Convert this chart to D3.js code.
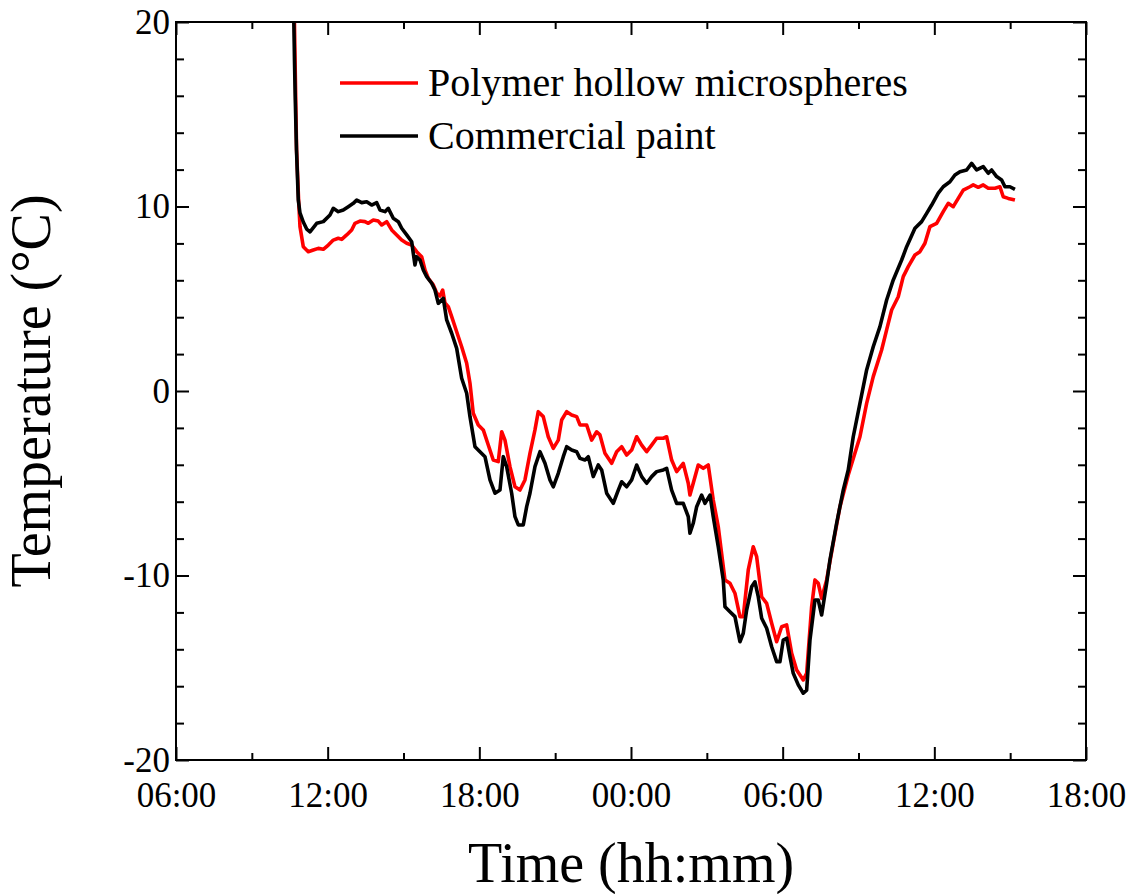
<!DOCTYPE html>
<html>
<head>
<meta charset="utf-8">
<script src="https://cdn.jsdelivr.net/npm/d3@7"></script>
<style>
  html, body { margin: 0; padding: 0; background: #fff; }
  svg { display: block; font-family: "Liberation Serif", "Times New Roman", serif; }
</style>
</head>
<body>
<svg id="chart" width="1135" height="894"></svg>
<script>
// Elapsed clock hours from midnight of day 1 (24 = midnight of day 2)
const polymerHours = [10.63, 10.67, 10.77, 10.85, 10.905, 11.036, 11.233, 11.431, 11.629, 11.827, 12.025, 12.222, 12.42, 12.555, 12.752, 12.95, 13.081, 13.278, 13.476, 13.607, 13.805, 14.002, 14.137, 14.335, 14.533, 14.73, 14.928, 15.126, 15.324, 15.521, 15.719, 15.85, 15.98, 16.178, 16.313, 16.443, 16.55, 16.641, 16.771, 16.906, 17.104, 17.301, 17.499, 17.63, 17.76, 17.958, 18.156, 18.354, 18.551, 18.749, 18.884, 19.014, 19.212, 19.41, 19.608, 19.805, 20.003, 20.201, 20.331, 20.529, 20.727, 20.925, 21.123, 21.257, 21.455, 21.653, 21.851, 21.981, 22.246, 22.444, 22.642, 22.772, 22.97, 23.235, 23.433, 23.631, 23.829, 24.026, 24.224, 24.422, 24.62, 24.817, 25.015, 25.276, 25.411, 25.608, 25.806, 26.067, 26.265, 26.332, 26.462, 26.66, 26.858, 27.056, 27.254, 27.452, 27.717, 27.915, 28.112, 28.31, 28.441, 28.639, 28.837, 28.971, 29.169, 29.367, 29.565, 29.762, 29.96, 30.158, 30.356, 30.553, 30.815, 30.949, 31.146, 31.277, 31.408, 31.542, 31.74, 32.001, 32.266, 32.594, 33.057, 33.322, 33.583, 33.915, 34.113, 34.311, 34.572, 34.77, 34.968, 35.233, 35.43, 35.628, 35.826, 36.091, 36.352, 36.55, 36.748, 36.946, 37.144, 37.408, 37.539, 37.737, 37.935, 38.133, 38.398, 38.595, 38.726, 38.924, 39.188];
const polymerTemp = [25.0, 21.2, 13.06, 10.35, 8.91, 7.82, 7.55, 7.64, 7.73, 7.68, 7.91, 8.18, 8.28, 8.22, 8.46, 8.73, 9.09, 9.21, 9.18, 9.09, 9.27, 9.21, 9.0, 9.18, 8.73, 8.46, 8.18, 8.01, 7.91, 7.55, 7.28, 6.56, 6.11, 5.75, 5.31, 5.15, 5.47, 4.77, 4.57, 4.03, 3.21, 2.40, 1.50, 0.42, -1.21, -1.84, -2.11, -2.93, -3.74, -3.83, -2.21, -2.66, -4.10, -5.19, -5.37, -4.82, -3.38, -2.11, -1.12, -1.39, -2.48, -3.11, -2.66, -1.57, -1.12, -1.30, -1.39, -1.84, -1.84, -2.66, -2.21, -2.38, -3.38, -3.92, -3.29, -3.02, -3.47, -3.20, -2.48, -2.93, -3.29, -2.93, -2.56, -2.56, -2.48, -3.74, -4.37, -3.92, -5.00, -5.64, -5.00, -4.01, -4.19, -4.01, -5.91, -7.36, -10.24, -10.42, -10.96, -12.23, -12.23, -9.70, -8.44, -8.98, -11.15, -11.51, -12.59, -13.59, -12.78, -12.68, -14.22, -15.12, -15.66, -15.30, -11.69, -10.24, -10.42, -11.24, -10.24, -8.25, -6.27, -4.55, -2.48, -0.67, 0.78, 2.22, 3.31, 4.39, 5.11, 6.20, 6.74, 7.37, 7.55, 8.01, 8.91, 9.09, 9.72, 10.17, 9.99, 10.44, 10.89, 11.07, 11.17, 11.04, 11.17, 10.99, 10.99, 11.07, 10.53, 10.44, 10.35];

const paintHours = [10.63, 10.648, 10.687, 10.719, 10.767, 10.838, 10.905, 11.036, 11.17, 11.301, 11.566, 11.827, 12.092, 12.222, 12.42, 12.618, 12.816, 13.014, 13.148, 13.346, 13.544, 13.741, 13.939, 14.07, 14.267, 14.398, 14.596, 14.794, 14.928, 15.126, 15.324, 15.387, 15.454, 15.521, 15.652, 15.783, 15.917, 16.115, 16.245, 16.376, 16.574, 16.708, 16.906, 17.104, 17.301, 17.499, 17.63, 17.828, 18.025, 18.223, 18.421, 18.619, 18.816, 18.947, 19.081, 19.279, 19.41, 19.541, 19.738, 19.873, 20.003, 20.201, 20.399, 20.597, 20.794, 20.925, 21.123, 21.321, 21.455, 21.653, 21.851, 21.981, 22.179, 22.31, 22.507, 22.705, 22.839, 23.037, 23.299, 23.497, 23.631, 23.829, 24.026, 24.224, 24.422, 24.62, 24.817, 25.015, 25.276, 25.411, 25.608, 25.806, 26.067, 26.265, 26.332, 26.462, 26.598, 26.796, 26.926, 27.124, 27.254, 27.452, 27.65, 27.717, 27.915, 28.112, 28.31, 28.441, 28.575, 28.773, 28.904, 29.034, 29.169, 29.367, 29.565, 29.762, 29.892, 30.023, 30.158, 30.288, 30.419, 30.617, 30.815, 30.949, 31.08, 31.277, 31.408, 31.542, 31.74, 31.87, 32.135, 32.396, 32.594, 32.792, 33.057, 33.322, 33.583, 33.848, 34.113, 34.375, 34.707, 34.905, 35.233, 35.498, 35.696, 35.894, 36.155, 36.352, 36.617, 36.815, 37.013, 37.278, 37.476, 37.674, 37.935, 38.133, 38.267, 38.465, 38.663, 38.794, 38.991, 39.189];
const paintTemp = [25.0, 21.19, 17.94, 15.77, 13.06, 10.35, 9.65, 9.16, 8.78, 8.63, 9.09, 9.18, 9.54, 9.90, 9.72, 9.81, 9.99, 10.17, 10.35, 10.21, 10.26, 10.08, 10.21, 9.81, 9.72, 9.90, 9.36, 9.18, 8.82, 8.46, 8.09, 7.46, 6.83, 7.28, 7.10, 6.56, 6.20, 5.84, 5.47, 4.75, 5.02, 3.85, 3.13, 2.31, 0.69, -0.12, -1.39, -3.02, -3.29, -3.56, -4.82, -5.54, -5.37, -3.56, -4.10, -5.54, -6.81, -7.26, -7.26, -6.27, -5.54, -4.10, -3.29, -3.92, -4.82, -5.19, -4.46, -3.56, -3.02, -3.20, -3.29, -3.65, -3.74, -3.56, -4.64, -4.01, -4.28, -5.54, -6.09, -5.37, -4.92, -5.19, -4.82, -4.01, -4.64, -5.00, -4.64, -4.37, -4.28, -4.19, -5.37, -6.09, -6.09, -6.81, -7.71, -7.17, -6.27, -5.64, -6.09, -5.64, -6.81, -8.44, -10.24, -11.69, -11.96, -12.23, -13.59, -13.13, -11.87, -10.61, -10.34, -11.15, -12.32, -12.86, -13.86, -14.67, -14.67, -13.50, -13.40, -14.40, -15.30, -15.93, -16.38, -16.21, -13.50, -11.33, -11.33, -12.14, -10.42, -9.16, -7.17, -5.37, -4.28, -2.48, -0.67, 1.14, 2.40, 3.49, 4.93, 6.02, 7.10, 7.82, 8.82, 9.18, 9.63, 10.08, 10.72, 11.07, 11.34, 11.71, 11.89, 11.98, 12.34, 11.98, 12.16, 11.80, 11.98, 11.62, 11.44, 11.07, 11.07, 10.93];

const seriesNames = ["Polymer hollow microspheres", "Commercial paint"];
const seriesColors = ["#ff0000", "#000000"];

const xMajorTicks = [6, 12, 18, 24, 30, 36, 42];
const xTickLabels = ["06:00", "12:00", "18:00", "00:00", "06:00", "12:00", "18:00"];
const xMinorTicks = [9, 15, 21, 27, 33, 39];
const yMajorTicks = [-20, -10, 0, 10, 20];
const yTickLabels = ["-20", "-10", "0", "10", "20"];
const yMinorTicks = [-18, -16, -14, -12, -8, -6, -4, -2, 2, 4, 6, 8, 12, 14, 16, 18];

const svg = d3.select("#chart");
const W = 1135, H = 894;
const m = { left: 176, right: 1086, top: 22, bottom: 760 };

svg.append("rect").attr("width", W).attr("height", H).attr("fill", "#fff");

const x = d3.scaleLinear().domain([6, 42]).range([m.left, m.right]);
const y = d3.scaleLinear().domain([-20, 20]).range([m.bottom, m.top]);

svg.append("defs").append("clipPath").attr("id", "plotClip")
  .append("rect").attr("x", m.left).attr("y", m.top)
  .attr("width", m.right - m.left).attr("height", m.bottom - m.top);

const fmtX = d => xTickLabels[xMajorTicks.indexOf(d)];
const fmtY = d => yTickLabels[yMajorTicks.indexOf(d)];

function styleAxis(g) {
  g.select(".domain").remove();
  g.selectAll(".tick line").attr("stroke", "#000").attr("stroke-width", 2);
  g.selectAll(".tick text").attr("fill", "#000").attr("font-size", 35)
    .attr("font-family", '"Liberation Serif", "Times New Roman", serif');
}

// Bottom axis: labelled majors, short minors, ticks pointing inward
svg.append("g").attr("transform", `translate(0,${m.bottom})`)
  .call(d3.axisBottom(x).tickValues(xMajorTicks).tickFormat(fmtX).tickSize(-13).tickPadding(22))
  .call(styleAxis);
svg.append("g").attr("transform", `translate(0,${m.bottom})`)
  .call(d3.axisBottom(x).tickValues(xMinorTicks).tickFormat("").tickSize(-7))
  .call(styleAxis);
// Top axis mirrors the bottom ticks
svg.append("g").attr("transform", `translate(0,${m.top})`)
  .call(d3.axisTop(x).tickValues(xMajorTicks).tickFormat("").tickSize(-13))
  .call(styleAxis);
svg.append("g").attr("transform", `translate(0,${m.top})`)
  .call(d3.axisTop(x).tickValues(xMinorTicks).tickFormat("").tickSize(-7))
  .call(styleAxis);

// Left axis with labels, right axis mirrored
svg.append("g").attr("transform", `translate(${m.left},0)`)
  .call(d3.axisLeft(y).tickValues(yMajorTicks).tickFormat(fmtY).tickSize(-13).tickPadding(6))
  .call(styleAxis);
svg.append("g").attr("transform", `translate(${m.left},0)`)
  .call(d3.axisLeft(y).tickValues(yMinorTicks).tickFormat("").tickSize(-8))
  .call(styleAxis);
svg.append("g").attr("transform", `translate(${m.right},0)`)
  .call(d3.axisRight(y).tickValues(yMajorTicks).tickFormat("").tickSize(-13))
  .call(styleAxis);
svg.append("g").attr("transform", `translate(${m.right},0)`)
  .call(d3.axisRight(y).tickValues(yMinorTicks).tickFormat("").tickSize(-8))
  .call(styleAxis);

// Data lines
const line = d3.line().x(d => x(d[0])).y(d => y(d[1]));
const polymerData = polymerHours.map((h, i) => [h, polymerTemp[i]]);
const paintData = paintHours.map((h, i) => [h, paintTemp[i]]);

const plot = svg.append("g").attr("clip-path", "url(#plotClip)");
[polymerData, paintData].forEach((data, i) => {
  plot.append("path").datum(data)
    .attr("fill", "none")
    .attr("stroke", seriesColors[i])
    .attr("stroke-width", 3.6)
    .attr("stroke-linejoin", "round")
    .attr("d", line);
});

// Frame
svg.append("rect")
  .attr("x", m.left).attr("y", m.top)
  .attr("width", m.right - m.left).attr("height", m.bottom - m.top)
  .attr("fill", "none").attr("stroke", "#000").attr("stroke-width", 2);

// Legend
const legend = svg.append("g");
seriesNames.forEach((name, i) => {
  const ly = 83 + i * 53;
  legend.append("line")
    .attr("x1", 340).attr("x2", 418).attr("y1", ly).attr("y2", ly)
    .attr("stroke", seriesColors[i]).attr("stroke-width", 3.6);
  legend.append("text")
    .attr("x", 428).attr("y", ly + 13)
    .attr("font-size", 40).attr("fill", "#000")
    .text(name);
});

// Axis titles
svg.append("text")
  .attr("x", (m.left + m.right) / 2).attr("y", 882)
  .attr("text-anchor", "middle").attr("font-size", 56)
  .text("Time (hh:mm)");
svg.append("text")
  .attr("transform", `translate(50,${(m.top + m.bottom) / 2}) rotate(-90)`)
  .attr("text-anchor", "middle").attr("font-size", 56)
  .text("Temperature (\u00B0C)");
</script>
</body>
</html>
